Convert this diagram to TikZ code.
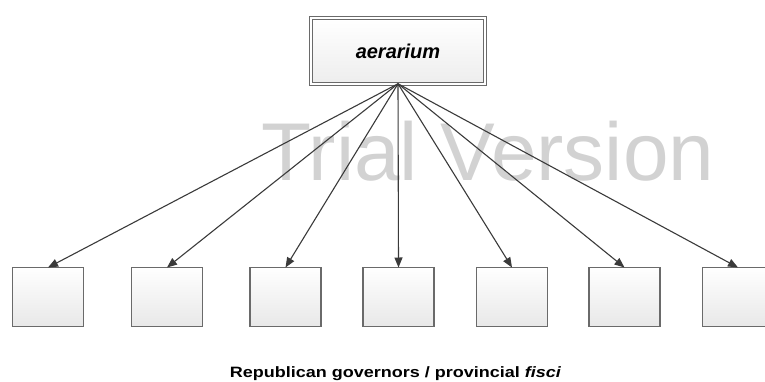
\documentclass[tikz,border=0pt]{standalone}
\usepackage{fontspec}
\setmainfont{Liberation Sans}
\usetikzlibrary{arrows.meta}
\definecolor{boxline}{HTML}{6A6A6A}
\definecolor{arrline}{HTML}{3A3A3A}
\definecolor{wmgray}{HTML}{D2D2D2}
\begin{document}
\begin{tikzpicture}[x=1pt, y=1pt,
    unit/.style={draw=boxline, line width=1.5pt, top color=white, bottom color=black!9,
        minimum width=71pt, minimum height=59pt, inner sep=0pt, outer sep=0pt},
    head/.style={draw=boxline, line width=1.3pt, double=white, double distance=1.8pt,
        top color=white, bottom color=black!7, minimum width=173.5pt, minimum height=65.5pt,
        inner sep=0pt, outer sep=0pt},
    link/.style={draw=arrline, line width=1.1pt, -{Triangle[length=10pt, width=8pt]}}]
    \useasboundingbox (0,0) rectangle (765,381);

    % Watermark
    \node[text=wmgray, font=\fontsize{82}{82}\selectfont, anchor=base] (wm) at (488,201) {Trial Version};

    % Treasury
    \node[head, font=\bfseries\itshape\fontsize{20}{24}\selectfont] (top) at (398,330) {aerarium};

    % Governors
    \foreach \i/\x in {1/48, 2/167, 3/285.5, 4/398.5, 5/512, 6/624.5, 7/738} {
        \node[unit] (b\i) at (\x,84) {};
        \draw[link] (top.south) -- (b\i.north);
    }
    \node[font=\bfseries\fontsize{15}{18}\selectfont, anchor=base] (cap) at (395.5,3.5)
        {\scalebox{1.2}[1]{Republican governors / provincial \textit{fisci}}};
\end{tikzpicture}
\end{document}
